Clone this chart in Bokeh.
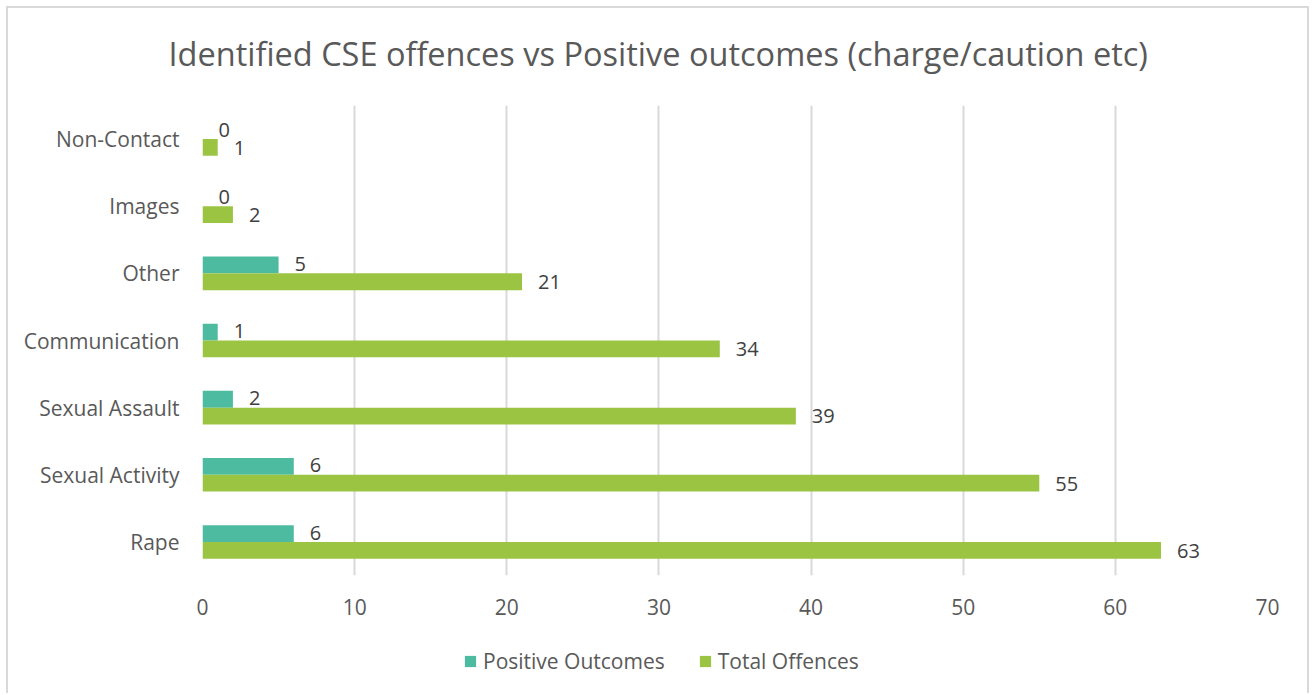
from bokeh.plotting import figure
from bokeh.layouts import column
from bokeh.models import (ColumnDataSource, FactorRange, Legend, LegendItem, LabelSet,
                          Range1d, FixedTicker)
from bokeh.transform import dodge
from bokeh.core.properties import value
from bokeh.embed import file_html
from bokeh.resources import INLINE

categories = ["Rape", "Sexual Activity", "Sexual Assault", "Communication", "Other", "Images", "Non-Contact"]
positive_outcomes = [6, 6, 2, 1, 5, 0, 0]
total_offences = [63, 55, 39, 34, 21, 2, 1]
x_ticks = [0, 10, 20, 30, 40, 50, 60, 70]
series_names = ["Positive Outcomes", "Total Offences"]
title_text = "Identified CSE offences vs Positive outcomes (charge/caution etc)"

TEAL = "#4dbba0"
GREEN = "#9cc443"
GRAY = "#595959"
FONT = "Open Sans"
W = 1312

src = ColumnDataSource(dict(cat=categories, pos=positive_outcomes, tot=total_offences,
                            pos_txt=[str(v) for v in positive_outcomes],
                            tot_txt=[str(v) for v in total_offences]))

# ---- main chart ----
p = figure(width=W, height=639,
           y_range=FactorRange(factors=categories, range_padding=0),
           x_range=Range1d(0, 70), output_backend="svg", toolbar_location=None,
           min_border_left=202, min_border_right=45, min_border_top=112, min_border_bottom=57,
           border_fill_color=None, background_fill_color=None)

p.title.text = title_text
p.title.align = "left"
p.title.offset = -34
p.title.text_font = FONT
p.title.text_font_style = "normal"
p.title.text_font_size = "32.5px"
p.title.text_color = GRAY
p.title.standoff = 60

p.hbar(y=dodge("cat", 0.125, range=p.y_range), right="pos", left=0, height=0.25,
       fill_color=TEAL, line_alpha=0, source=src)
p.hbar(y=dodge("cat", -0.125, range=p.y_range), right="tot", left=0, height=0.25,
       fill_color=GREEN, line_alpha=0, source=src)

p.add_layout(LabelSet(x="pos", y=dodge("cat", 0.14, range=p.y_range), text="pos_txt", source=src,
                      x_offset=16, text_baseline="middle", text_font_size="20px",
                      text_color="#404040", text_font=value(FONT)))
p.add_layout(LabelSet(x="tot", y=dodge("cat", -0.13, range=p.y_range), text="tot_txt", source=src,
                      x_offset=16, text_baseline="middle", text_font_size="20px",
                      text_color="#404040", text_font=value(FONT)))

p.xaxis.ticker = FixedTicker(ticks=x_ticks)
for ax in (p.xaxis[0], p.yaxis[0]):
    ax.axis_line_color = None
    ax.major_tick_line_color = None
    ax.minor_tick_line_color = None
    ax.major_label_text_font = FONT
    ax.major_label_text_font_size = "21px"
    ax.major_label_text_color = GRAY
p.xaxis.major_label_standoff = 17
p.yaxis.major_label_standoff = 17

p.ygrid.grid_line_color = None
p.xgrid.grid_line_color = "#d9d9d9"
p.xgrid.grid_line_width = 2
p.outline_line_color = None

# ---- legend strip (its glyphs lie outside its ranges; only the legend shows) ----
pl = figure(width=W, height=61, x_range=Range1d(100, 101), y_range=Range1d(100, 101),
            output_backend="svg", toolbar_location=None, min_border=0,
            border_fill_color=None, background_fill_color=None)
pl.axis.visible = False
pl.grid.visible = False
pl.outline_line_color = None
lr_pos = pl.hbar(y="pos", right="pos", left=0, height=0.25, fill_color=TEAL, line_alpha=0, source=src)
lr_tot = pl.hbar(y="pos", right="tot", left=0, height=0.25, fill_color=GREEN, line_alpha=0, source=src)
legend = Legend(items=[LegendItem(label=series_names[0], renderers=[lr_pos]),
                       LegendItem(label=series_names[1], renderers=[lr_tot])],
                orientation="horizontal", location=(261, 18),
                label_text_font=FONT, label_text_font_size="21px", label_text_color=GRAY,
                glyph_width=14, glyph_height=14, spacing=33, label_standoff=6,
                border_line_color=None, background_fill_alpha=0, padding=0, margin=0)
pl.add_layout(legend, "center")

layout = column(p, pl, spacing=0)
layout.styles = {
    "margin": "-7px 0 0 0",
    "box-shadow": ("inset 6px 13px 0 0 #ffffff, inset -3px 0 0 0 #ffffff, "
                   "inset 8px 15px 0 0 #d9d9d9, inset -5px 0 0 0 #d9d9d9"),
}

open("out.html", "w").write(file_html(layout, INLINE))
